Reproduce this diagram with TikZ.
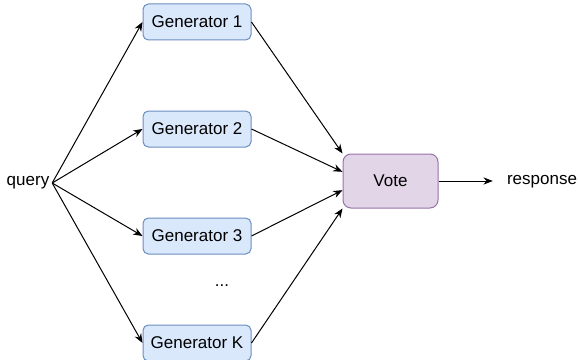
\documentclass[tikz,border=0pt]{standalone}
\usepackage{fontspec}
\setmainfont{Liberation Sans}
\usetikzlibrary{arrows.meta,calc}
\definecolor{genfill}{HTML}{DAE8FC}
\definecolor{gendraw}{HTML}{6C8EBF}
\definecolor{votefill}{HTML}{E1D5E7}
\definecolor{votedraw}{HTML}{9673A6}
\begin{document}
\begin{tikzpicture}[x=0.75pt,y=-0.75pt,
  every node/.style={font=\fontsize{12.75}{15}\selectfont},
  genbox/.style={draw=gendraw,fill=genfill,rounded corners=4pt,minimum width=81pt,minimum height=27pt,inner sep=0pt,line width=0.75pt},
  votebox/.style={draw=votedraw,fill=votefill,rounded corners=6pt,minimum width=71.25pt,minimum height=40.5pt,inner sep=0pt,line width=0.75pt},
  lbl/.style={inner sep=0pt},
  conn/.style={line width=0.75pt,-{Stealth[length=7pt,width=5.5pt]}}]
\useasboundingbox (0,0) rectangle (578,360);
\node[lbl,inner xsep=2pt] (query) at (28,183) {query};
\node[genbox] (g1) at (197,22) {Generator 1};
\node[genbox] (g2) at (197,129) {Generator 2};
\node[genbox] (g3) at (197,236) {Generator 3};
\node[genbox] (gk) at (197,343) {Generator K};
\node[lbl] (dots) at (222,286) {...};
\node[votebox] (vote) at (390.5,181) {Vote};
\node[lbl,inner xsep=10.5pt] (resp) at (542,182) {response};
\foreach \g in {g1,g2,g3,gk}{\draw[conn] (query.east) -- (\g.west);}
\draw[conn] (g1.east) -- ($(vote.north west)!0!(vote.south west)$);
\draw[conn] (g2.east) -- ($(vote.north west)!0.3333!(vote.south west)$);
\draw[conn] (g3.east) -- ($(vote.north west)!0.6667!(vote.south west)$);
\draw[conn] (gk.east) -- ($(vote.north west)!1!(vote.south west)$);
\draw[conn] (vote.east) -- (vote.east -| resp.west);
\end{tikzpicture}
\end{document}
